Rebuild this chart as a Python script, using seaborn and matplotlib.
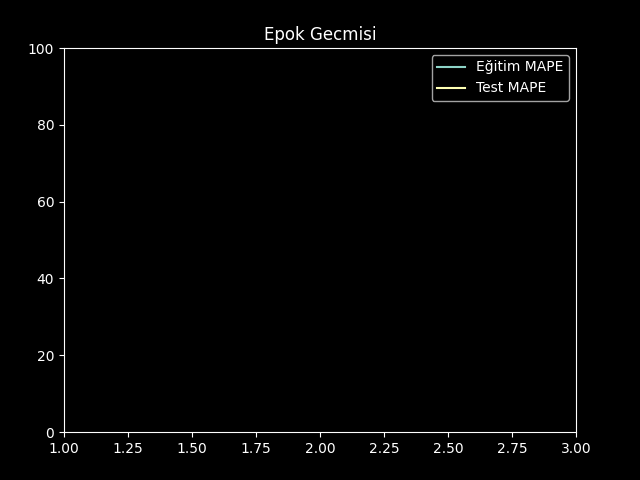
import pandas as pd
import seaborn as sns
import matplotlib
matplotlib.use('Agg')
import matplotlib.pyplot as plt

plt.style.use('dark_background')

# epoch history (values above 100 -> clipped by the y limit, like the reference)
epochs = [1, 2, 3]
train_mape = [310.0, 215.0, 160.0]
test_mape = [270.0, 190.0, 145.0]

df = pd.DataFrame({'Epok': epochs, 'Eğitim MAPE': train_mape, 'Test MAPE': test_mape})
long_df = df.melt(id_vars='Epok', var_name='Seri', value_name='MAPE')

colors = plt.rcParams['axes.prop_cycle'].by_key()['color']

fig = plt.figure(figsize=(6.4, 4.8), dpi=100)
ax = fig.add_axes([0.1, 0.1, 0.8, 0.8])
sns.lineplot(data=long_df, x='Epok', y='MAPE', hue='Seri', palette=colors[:2], ax=ax)
ax.set_ylim(0, 100)
ax.set_xlim(1, 3)
ax.set_title('Epok Gecmisi')
ax.set_xlabel('')
ax.set_ylabel('')
ax.legend(title=None, loc='upper right')

plt.savefig('out.png', dpi=100)
